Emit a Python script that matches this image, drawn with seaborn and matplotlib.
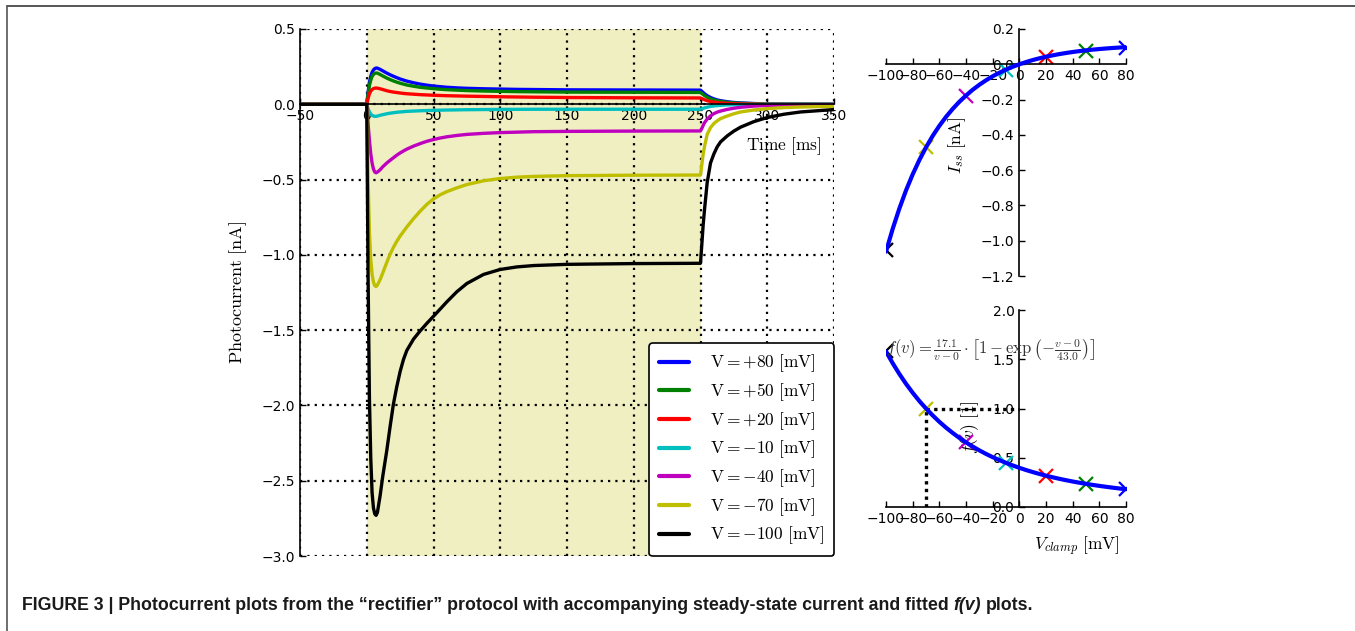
import numpy as np
import pandas as pd
import matplotlib
matplotlib.use("Agg")
import matplotlib.pyplot as plt
import seaborn as sns
from matplotlib.lines import Line2D
from matplotlib.font_manager import findfont, FontProperties

# ---------------- data ----------------
TIME_MS = [-50, 0, 1, 2, 3, 4, 5, 6, 7, 8, 10, 12, 15, 17.5, 20, 22.5, 25, 27.5, 30, 35,
           40, 45, 50, 55, 60, 67.5, 75, 87.5, 100, 112.5, 125, 150, 200, 250,
           251, 252, 253, 255, 257.5, 260, 262.5, 265, 270, 275, 280, 290, 300, 312.5,
           325, 350]

I_P80 = [0, 0, 0.08, 0.145, 0.185, 0.212, 0.228, 0.237, 0.241, 0.240,
         0.232, 0.222, 0.207, 0.196, 0.186, 0.177, 0.168, 0.161, 0.154, 0.143, 0.134,
         0.127, 0.121, 0.117, 0.113, 0.109, 0.106, 0.103, 0.101, 0.099, 0.098, 0.096,
         0.095, 0.094,
         0.086, 0.078, 0.070, 0.057, 0.045, 0.036, 0.029, 0.024, 0.017, 0.012, 0.009,
         0.005, 0.003, 0.002, 0.001, 0.0]
I_P50 = [0, 0, 0.07, 0.125, 0.16, 0.185, 0.198, 0.205, 0.208, 0.207,
         0.198, 0.188, 0.174, 0.164, 0.155, 0.147, 0.140, 0.134, 0.128, 0.120, 0.113,
         0.108, 0.104, 0.100, 0.097, 0.094, 0.091, 0.088, 0.086, 0.084, 0.083, 0.081,
         0.080, 0.079,
         0.072, 0.065, 0.058, 0.047, 0.036, 0.029, 0.023, 0.019, 0.013, 0.009, 0.007,
         0.004, 0.002, 0.0015, 0.001, 0.0]
I_P20 = [0, 0, 0.04, 0.07, 0.088, 0.098, 0.104, 0.107, 0.108, 0.107,
         0.103, 0.098, 0.090, 0.085, 0.081, 0.078, 0.075, 0.072, 0.070, 0.067, 0.064,
         0.062, 0.060, 0.0585, 0.057, 0.0555, 0.054, 0.052, 0.050, 0.0485, 0.047, 0.045,
         0.043, 0.042,
         0.038, 0.034, 0.030, 0.024, 0.018, 0.014, 0.011, 0.009, 0.006, 0.004, 0.003,
         0.002, 0.001, 0.0005, 0.0, 0.0]
I_M10 = [0, 0, -0.03, -0.05, -0.065, -0.074, -0.078, -0.080, -0.080, -0.078,
         -0.073, -0.069, -0.063, -0.059, -0.056, -0.053, -0.051, -0.049, -0.047, -0.045,
         -0.043, -0.0415, -0.040, -0.039, -0.038, -0.037, -0.036, -0.035, -0.034,
         -0.0335, -0.033, -0.033, -0.033, -0.033,
         -0.030, -0.027, -0.024, -0.019, -0.014, -0.011, -0.009, -0.007, -0.004, -0.003,
         -0.002, -0.001, 0.0, 0.0, 0.0, 0.0]
I_M40 = [0, 0, -0.13, -0.24, -0.33, -0.39, -0.43, -0.45, -0.455, -0.45,
         -0.435, -0.415, -0.39, -0.372, -0.355, -0.338, -0.323, -0.31, -0.298, -0.278,
         -0.261, -0.246, -0.234, -0.224, -0.216, -0.207, -0.200, -0.193, -0.188, -0.185,
         -0.182, -0.180, -0.178, -0.177,
         -0.160, -0.140, -0.122, -0.098, -0.077, -0.062, -0.052, -0.045, -0.034, -0.026,
         -0.020, -0.012, -0.008, -0.005, -0.004, -0.002]
I_M70 = [0, 0, -0.50, -0.85, -1.03, -1.13, -1.18, -1.205, -1.21, -1.20,
         -1.165, -1.12, -1.05, -0.995, -0.95, -0.91, -0.875, -0.845, -0.815, -0.76,
         -0.71, -0.665, -0.628, -0.601, -0.58, -0.555, -0.533, -0.508, -0.493, -0.484,
         -0.479, -0.474, -0.471, -0.470,
         -0.40, -0.33, -0.28, -0.20, -0.155, -0.128, -0.11, -0.095, -0.078, -0.063,
         -0.051, -0.038, -0.029, -0.022, -0.018, -0.013]
I_M100 = [0, 0, -1.15, -1.95, -2.35, -2.58, -2.68, -2.72, -2.73, -2.71,
          -2.60, -2.47, -2.30, -2.14, -1.99, -1.875, -1.775, -1.695, -1.635, -1.56,
          -1.505, -1.455, -1.408, -1.36, -1.312, -1.245, -1.19, -1.13, -1.097, -1.08,
          -1.071, -1.063, -1.058, -1.056,
          -0.93, -0.80, -0.70, -0.52, -0.39, -0.33, -0.283, -0.25, -0.21, -0.178,
          -0.152, -0.115, -0.088, -0.066, -0.051, -0.035]

VOLTAGES = [80, 50, 20, -10, -40, -70, -100]
TRACES = [I_P80, I_P50, I_P20, I_M10, I_M40, I_M70, I_M100]
COLORS = [(0, 0, 1), (0, 0.5, 0), (1, 0, 0), (0, 0.75, 0.75),
          (0.75, 0, 0.75), (0.75, 0.75, 0), (0, 0, 0)]
LIGHT_ON, LIGHT_OFF = 0, 250

# steady-state currents and normalised rectification at each clamp voltage
ISS_POINTS = [0.094, 0.078, 0.042, -0.032, -0.177, -0.470, -1.055]
FV_POINTS = [0.180, 0.235, 0.318, 0.448, 0.656, 1.000, 1.580]

# fitted curves
FIT_V = [-100, -95, -90, -85, -80, -75, -70, -65, -60, -55, -50, -45, -40, -35, -30,
         -25, -20, -15, -10, -5, 0, 5, 10, 15, 20, 25, 30, 35, 40, 45, 50, 55, 60, 65,
         70, 75, 80]
FIT_ISS = [-1.062, -0.933, -0.818, -0.715, -0.624, -0.543, -0.471, -0.406, -0.349,
           -0.298, -0.253, -0.2125, -0.177, -0.1445, -0.116, -0.0907, -0.068, -0.048,
           -0.030, -0.0142, 0.0, 0.0126, 0.0239, 0.0339, 0.0428, 0.0507, 0.0578, 0.064,
           0.0696, 0.0746, 0.0791, 0.083, 0.0865, 0.0896, 0.0924, 0.0949, 0.0971]
FIT_F = [1.579, 1.460, 1.351, 1.251, 1.160, 1.076, 1.000, 0.930, 0.865, 0.806, 0.752,
         0.702, 0.656, 0.614, 0.575, 0.539, 0.506, 0.476, 0.448, 0.422, 0.398, 0.3755,
         0.355, 0.3357, 0.318, 0.3016, 0.2863, 0.2721, 0.2589, 0.2466, 0.2351, 0.2244,
         0.2144, 0.2051, 0.1963, 0.1881, 0.1805]
REF_V, REF_F = -70, 1.0

FORMULA = (r"$f(v)=\frac{17.1}{v-0}\cdot\left[1-\exp\left(-\frac{v-0}{43.0}\right)\right]$")
CAPTION_MAIN = ("FIGURE 3 | Photocurrent plots from the \u201crectifier\u201d protocol with "
                "accompanying steady-state current and fitted")
CAPTION_ITALIC = "f(v)"
CAPTION_END = "plots."

# ---------------- style ----------------
sns.set_theme(style="ticks")
plt.rcParams.update({
    "font.family": ["DejaVu Sans"],
    "mathtext.fontset": "cm",
    "axes.edgecolor": "black",
    "axes.labelcolor": "black",
    "text.color": "black",
    "axes.linewidth": 1.2,
    "xtick.direction": "in", "ytick.direction": "in",
    "xtick.color": "black", "ytick.color": "black",
    "xtick.labelsize": 10, "ytick.labelsize": 10,
    "xtick.major.size": 4, "ytick.major.size": 4,
    "xtick.major.width": 1.0, "ytick.major.width": 1.0,
})

W, H = 1355, 631
fig = plt.figure(figsize=(W / 100, H / 100), dpi=100)
fig.patch.set_facecolor("white")


def box(x0, y0, x1, y1):
    return [x0 / W, 1 - y1 / H, (x1 - x0) / W, (y1 - y0) / H]


# ---------------- main panel ----------------
ax = fig.add_axes(box(300, 29, 834, 556))
ax.axvspan(LIGHT_ON, LIGHT_OFF, facecolor=(0.75, 0.75, 0), alpha=0.24, lw=0, zorder=0)

labels = []
for v in VOLTAGES:
    sign = "{+}" if v > 0 else "{-}"
    labels.append(r"$\mathrm{V} = " + sign + str(abs(v)) + r"\ [\mathrm{mV}]$")

rows = []
for lab, tr in zip(labels, TRACES):
    for t, i in zip(TIME_MS, tr):
        rows.append((t, i, lab))
df = pd.DataFrame(rows, columns=["t", "I", "V"])
n0 = len(ax.lines)
sns.lineplot(data=df, x="t", y="I", hue="V", hue_order=labels,
             palette=dict(zip(labels, COLORS)), estimator=None, sort=False,
             lw=2.4, ax=ax, legend=False)
handles = ax.lines[n0:n0 + len(labels)]
for h in handles:
    h.set_solid_joinstyle("round")

ax.set_xlim(-50, 350)
ax.set_ylim(-3.0, 0.5)
ax.set_xticks(np.arange(-50, 351, 50))
ax.set_yticks(np.arange(-3.0, 0.51, 0.5))
ax.grid(True, color="black", linestyle=(0, (1, 2.3)), lw=1.6)
ax.set_axisbelow(True)
ax.spines["bottom"].set_position(("data", 0))
ax.spines["top"].set_visible(False)
ax.spines["right"].set_visible(False)
ax.set_facecolor("none")
ax.set_xlabel(r"$\mathrm{Time\ [ms]}$", fontsize=12.5)
ax.set_ylabel(r"$\mathrm{Photocurrent\ [nA]}$", fontsize=13)
ax.xaxis.set_label_coords(0.906, 0.778)
ax.xaxis.label.set_va("center")
ax.yaxis.set_label_coords(-0.116, 0.5)
ax.yaxis.label.set_va("center")

leg = ax.legend(handles, labels, loc="lower right", borderaxespad=0, fontsize=12.5,
                frameon=True, fancybox=True, framealpha=1, edgecolor="black",
                handlelength=1.75, labelspacing=0.40, borderpad=0.55, handletextpad=1.2)
leg.get_frame().set_linewidth(1.2)
leg.get_frame().set_facecolor("white")
for lh in leg.get_lines():
    lh.set_linewidth(3)

# ---------------- steady-state current panel ----------------
ax2 = fig.add_axes(box(886, 29, 1126, 276))
sns.lineplot(x=FIT_V, y=FIT_ISS, color=(0, 0, 1), lw=3, ax=ax2, zorder=3)
for v, i, c in zip(VOLTAGES, ISS_POINTS, COLORS):
    ax2.plot([v], [i], marker="x", ms=9.5, mew=1.6, color=c, ls="none", zorder=2)
ax2.set_xlim(-100, 80)
ax2.set_ylim(-1.2, 0.2)
ax2.set_xticks(np.arange(-100, 81, 20))
ax2.set_yticks(np.round(np.arange(-1.2, 0.21, 0.2), 1))
ax2.spines["left"].set_position(("data", 0))
ax2.spines["bottom"].set_position(("data", 0))
ax2.spines["top"].set_visible(False)
ax2.spines["right"].set_visible(False)
ax2.set_facecolor("none")
ax2.set_xlabel("")
ax2.set_ylabel(r"$I_{ss}\ [\mathrm{nA}]$", fontsize=12.5)
ax2.yaxis.set_label_coords(0.295, 0.53)
ax2.yaxis.label.set_va("center")

# ---------------- rectification panel ----------------
ax3 = fig.add_axes(box(886, 310, 1126, 507))
ax3.plot([REF_V, REF_V], [0, REF_F], color="black", lw=2.4, ls=(0, (1, 1.3)), zorder=1)
ax3.plot([REF_V, 0], [REF_F, REF_F], color="black", lw=2.4, ls=(0, (1, 1.3)), zorder=1)
sns.lineplot(x=FIT_V, y=FIT_F, color=(0, 0, 1), lw=3, ax=ax3, zorder=3)
for v, f, c in zip(VOLTAGES, FV_POINTS, COLORS):
    ax3.plot([v], [f], marker="x", ms=9.5, mew=1.6, color=c, ls="none", zorder=2)
ax3.set_xlim(-100, 80)
ax3.set_ylim(0, 2.0)
ax3.set_xticks(np.arange(-100, 81, 20))
ax3.set_yticks(np.arange(0, 2.01, 0.5))
ax3.spines["left"].set_position(("data", 0))
ax3.spines["bottom"].set_position(("data", 0))
ax3.spines["top"].set_visible(False)
ax3.spines["right"].set_visible(False)
ax3.set_facecolor("none")
ax3.text(-100, 1.594, FORMULA, fontsize=12, ha="left", va="center",
         color="0.2", zorder=4)
ax3.set_xlabel(r"$V_{clamp}\ [\mathrm{mV}]$", fontsize=12.5)
ax3.xaxis.set_label_coords(0.795, -0.2015)
ax3.xaxis.label.set_va("center")
ax3.set_ylabel(r"$f(v)\ [1]$", fontsize=12.5)
ax3.yaxis.set_label_coords(0.35, 0.408)
ax3.yaxis.label.set_va("center")

# ---------------- page frame ----------------
frame_c = "#555555"
fig.add_artist(Line2D([7 / W, 7 / W], [0, 1 - 6 / H], color=frame_c, lw=1.2,
                      transform=fig.transFigure))
fig.add_artist(Line2D([7 / W, 1], [1 - 6 / H, 1 - 6 / H], color=frame_c, lw=1.4,
                      transform=fig.transFigure))

# ---------------- caption ----------------
try:
    findfont(FontProperties(family="Liberation Sans Narrow", weight="bold"),
             fallback_to_default=False)
    cap_family = "Liberation Sans Narrow"
except Exception:
    cap_family = "Liberation Sans"

renderer = fig.canvas.get_renderer()
cap_x0, cap_y = 22 / W, 1 - 606 / H
target_w = 1032 - 22
t1 = fig.text(cap_x0, cap_y, CAPTION_MAIN, fontweight="bold", family=cap_family,
              va="center", ha="left", color="#1a1a1a")
t2 = fig.text(0, cap_y, CAPTION_ITALIC, fontweight="bold", style="italic",
              family=cap_family, va="center", ha="left", color="#1a1a1a")
t3 = fig.text(0, cap_y, CAPTION_END, fontweight="bold", family=cap_family,
              va="center", ha="left", color="#1a1a1a")
probe_a = fig.text(0, 0, "xx", fontweight="bold", family=cap_family, alpha=0)
probe_b = fig.text(0, 0, "x x", fontweight="bold", family=cap_family, alpha=0)


def layout(size):
    for t in (t1, t2, t3, probe_a, probe_b):
        t.set_fontsize(size)
    sp = (probe_b.get_window_extent(renderer).width
          - probe_a.get_window_extent(renderer).width)
    w1 = t1.get_window_extent(renderer).width
    w2 = t2.get_window_extent(renderer).width
    w3 = t3.get_window_extent(renderer).width
    t2.set_x(cap_x0 + (w1 + sp) / W)
    t3.set_x(cap_x0 + (w1 + sp + w2 + sp) / W)
    return w1 + w2 + w3 + 2 * sp


size = 11.0
for _ in range(3):
    total = layout(size)
    size = size * target_w / total
layout(size)
probe_a.remove()
probe_b.remove()

fig.savefig("out.png", dpi=100, facecolor="white")
